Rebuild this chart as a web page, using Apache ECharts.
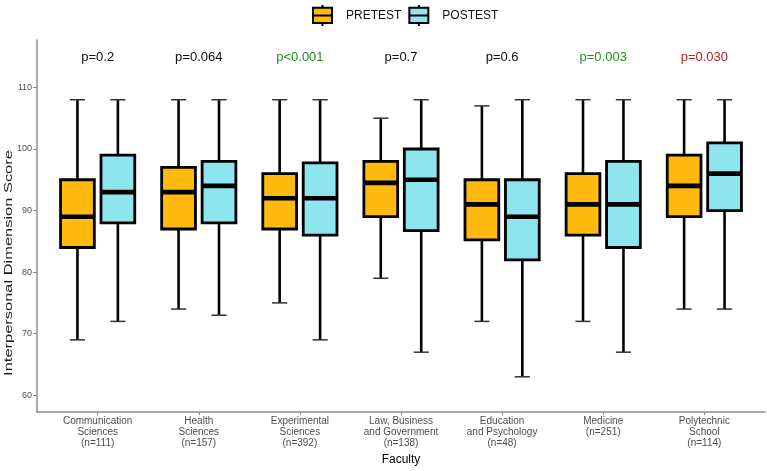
<!DOCTYPE html>
<html>
<head>
<meta charset="utf-8">
<script src="https://cdn.jsdelivr.net/npm/echarts@6/dist/echarts.min.js"></script>
<style>html,body{margin:0;padding:0;background:#fff}#c{width:767px;height:471px}</style>
</head>
<body>
<div id="c"></div>
<script>
// ---- data ----
const categories = [
  'Communication\nSciences\n(n=111)',
  'Health\nSciences\n(n=157)',
  'Experimental\nSciences\n(n=392)',
  'Law, Business\nand Government\n(n=138)',
  'Education\nand Psychology\n(n=48)',
  'Medicine\n(n=251)',
  'Polytechnic\nSchool\n(n=114)'
];
// [min, Q1, median, Q3, max]
const pretest = [
  [69, 84, 89, 95, 108],
  [74, 87, 93, 97, 108],
  [75, 87, 92, 96, 108],
  [79, 89, 94.5, 98, 105],
  [72, 85.25, 91, 95, 107],
  [72, 86, 91, 96, 108],
  [74, 89, 94, 99, 108]
];
const posttest = [
  [72, 88, 93, 99, 108],
  [73, 88, 94, 98, 108],
  [69, 86, 92, 97.75, 108],
  [67, 86.75, 95, 100, 108],
  [63, 82, 89, 95, 108],
  [67, 84, 91, 98, 108],
  [74, 90, 96, 101, 108]
];
const pValues = ['p=0.2', 'p=0.064', 'p<0.001', 'p=0.7', 'p=0.6', 'p=0.003', 'p=0.030'];
const yTicks = [60, 70, 80, 90, 100, 110];
const seriesNames = ['PRETEST', 'POSTEST'];

// ---- styling / layout constants ----
const FONT = 'Liberation Sans, Arial, sans-serif';
const PRE_COLOR = '#FFB90F';
const POST_COLOR = '#8EE5EE';
const BOX_HALF = 0.167;
const CAP_HALF = 0.075;
const DODGE = 0.2;
const P_LEVEL = 114.8;

function pColor(p) {
  const num = parseFloat(p.replace(/[^0-9.]/g, ''));
  if (p.indexOf('<') >= 0 || num < 0.01) return '#228B22';
  if (num < 0.05) return '#B22222';
  return '#111';
}

function makeRender(offset, fill) {
  return function (params, api) {
    const x = api.value(0) + offset;
    const lo = api.coord([x, api.value(1)]);
    const q1 = api.coord([x, api.value(2)]);
    const md = api.coord([x, api.value(3)]);
    const q3 = api.coord([x, api.value(4)]);
    const hi = api.coord([x, api.value(5)]);
    const hw = api.size([BOX_HALF, 0])[0];
    const cw = api.size([CAP_HALF, 0])[0];
    const cx = lo[0];
    const wStyle = { stroke: '#000', lineWidth: 2.6 };
    const capStyle = { stroke: '#333', lineWidth: 1.5 };
    return {
      type: 'group',
      children: [
        { type: 'line', shape: { x1: cx, y1: lo[1], x2: cx, y2: q1[1] }, style: wStyle },
        { type: 'line', shape: { x1: cx, y1: q3[1], x2: cx, y2: hi[1] }, style: wStyle },
        { type: 'line', shape: { x1: cx - cw, y1: lo[1], x2: cx + cw, y2: lo[1] }, style: capStyle },
        { type: 'line', shape: { x1: cx - cw, y1: hi[1], x2: cx + cw, y2: hi[1] }, style: capStyle },
        { type: 'rect', shape: { x: cx - hw, y: q3[1], width: 2 * hw, height: q1[1] - q3[1] },
          style: { fill: fill, stroke: '#000', lineWidth: 2.8 } },
        { type: 'line', shape: { x1: cx - hw, y1: md[1], x2: cx + hw, y2: md[1] },
          style: { stroke: '#000', lineWidth: 4.6 } }
      ]
    };
  };
}

const preData = pretest.map((d, i) => [i + 1].concat(d));
const postData = posttest.map((d, i) => [i + 1].concat(d));
const pData = pValues.map((p, i) => [i + 1, P_LEVEL, p]);

const legendIcon = 'path://M10,0V3M0,3H20V19H0ZM0,11H20M10,19V22';

const chart = echarts.init(document.getElementById('c'), null, { renderer: 'canvas' });
chart.setOption({
  animation: false,
  backgroundColor: '#fff',
  textStyle: { fontFamily: FONT },
  grid: { left: 37, right: 2, top: 40, bottom: 51 },
  legend: {
    left: 312, top: 4, padding: 0,
    itemWidth: 19, itemHeight: 22, itemGap: 7,
    icon: legendIcon,
    itemStyle: { borderColor: '#000', borderWidth: 2 },
    textStyle: { fontSize: 12, color: '#111', fontFamily: FONT, padding: [0, 0, 0, 9] },
    data: seriesNames
  },
  xAxis: {
    type: 'value', min: 0.4, max: 7.6,
    splitLine: { show: false },
    axisLine: { lineStyle: { color: '#8c8c8c', width: 1.5 } },
    axisTick: { customValues: categories.map((c, i) => i + 1), length: 3, lineStyle: { color: '#8c8c8c' } },
    axisLabel: {
      customValues: categories.map((c, i) => i + 1),
      formatter: v => categories[Math.round(v) - 1] || '',
      fontSize: 10, lineHeight: 11.3, color: '#4d4d4d', margin: 3, fontFamily: FONT
    },
    name: 'Faculty', nameLocation: 'middle', nameGap: 35,
    nameTextStyle: { fontSize: 12, color: '#000', fontFamily: FONT }
  },
  yAxis: {
    type: 'value', min: 57.25, max: 117.7,
    splitLine: { show: false },
    axisLine: { lineStyle: { color: '#8c8c8c', width: 1.5 } },
    axisTick: { customValues: yTicks, length: 4, lineStyle: { color: '#8c8c8c' } },
    axisLabel: { customValues: yTicks, fontSize: 9, color: '#4d4d4d', margin: 5, fontFamily: FONT }
  },
  graphic: [{
    type: 'text', x: 8.5, y: 263, rotation: Math.PI / 2, scaleX: 1.43,
    style: { text: 'Interpersonal Dimension Score', font: '11.5px ' + FONT, fill: '#1a1a1a',
      align: 'center', verticalAlign: 'middle' }
  }],
  series: [
    { name: seriesNames[0], type: 'custom', data: preData, encode: { x: 0, y: [1, 2, 3, 4, 5] },
      itemStyle: { color: PRE_COLOR }, renderItem: makeRender(-DODGE, PRE_COLOR) },
    { name: seriesNames[1], type: 'custom', data: postData, encode: { x: 0, y: [1, 2, 3, 4, 5] },
      itemStyle: { color: POST_COLOR }, renderItem: makeRender(DODGE, POST_COLOR) },
    { name: 'p', type: 'custom', data: pData, encode: { x: 0, y: 1 }, silent: true,
      renderItem: function (params, api) {
        const pt = api.coord([api.value(0), api.value(1)]);
        const txt = pValues[params.dataIndex];
        return { type: 'text', x: pt[0], y: pt[1],
          style: { text: txt, fill: pColor(txt), font: '13px ' + FONT, align: 'center', verticalAlign: 'middle' } };
      } }
  ]
});
</script>
</body>
</html>
